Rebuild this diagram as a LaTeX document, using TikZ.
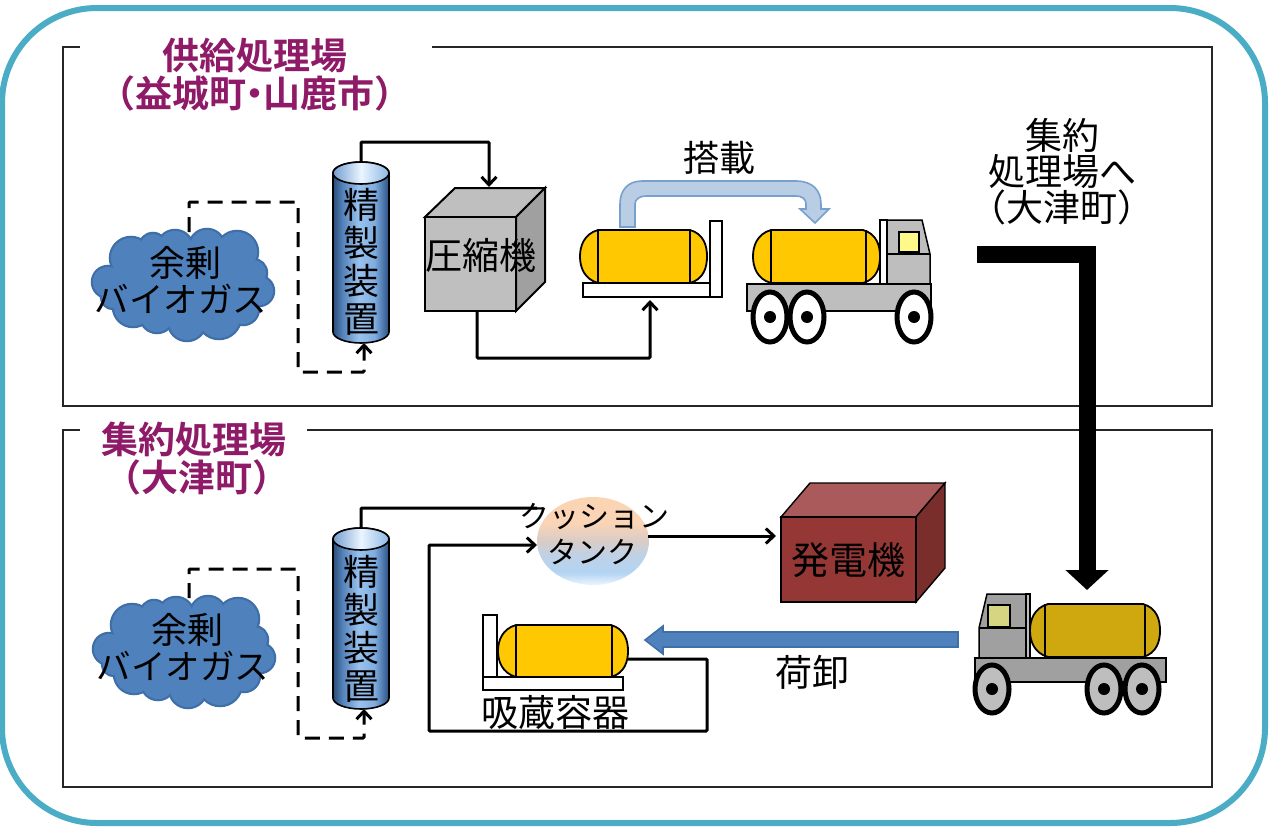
\documentclass[tikz,border=0pt]{standalone}
\usepackage{fontspec}
\setmainfont{Noto Sans CJK JP}
\newfontfamily\jpbold{Noto Sans CJK JP Bold}
\usetikzlibrary{arrows.meta}
\definecolor{frameC}{HTML}{4BACC6}
\definecolor{titleC}{HTML}{8E1A68}
\definecolor{cloudC}{HTML}{4F81BD}
\definecolor{cloudE}{HTML}{3F6FA8}
\definecolor{tankC}{HTML}{FFC800}
\definecolor{tankD}{HTML}{CFA70F}
\definecolor{grayC}{HTML}{BEBEBE}
\definecolor{grayD}{HTML}{A0A0A0}
\definecolor{cubeG}{HTML}{BFBFBF}
\pgfdeclareverticalshading{cushshade}{100bp}{
  rgb(0bp)=(.93,.96,1); rgb(25bp)=(.93,.96,1); rgb(32bp)=(.70,.83,.95);
  rgb(42bp)=(.75,.82,.90); rgb(50bp)=(.85,.80,.78); rgb(60bp)=(.98,.83,.71);
  rgb(75bp)=(.98,.83,.70); rgb(100bp)=(.98,.83,.70)}
\pgfdeclarehorizontalshading{cylshade}{100bp}{
  rgb(0bp)=(.16,.30,.46); rgb(25bp)=(.16,.30,.46); rgb(33bp)=(.32,.50,.72);
  rgb(48bp)=(.60,.76,.93); rgb(62bp)=(.50,.68,.88); rgb(72bp)=(.24,.40,.60);
  rgb(75bp)=(.16,.30,.46); rgb(100bp)=(.16,.30,.46)}
\pgfdeclarehorizontalshading{cyltop}{100bp}{
  rgb(0bp)=(.45,.62,.82); rgb(25bp)=(.45,.62,.82); rgb(50bp)=(.92,.96,1);
  rgb(75bp)=(.55,.72,.90); rgb(100bp)=(.55,.72,.90)}
\tikzset{
  x=1pt,y=-1pt,
  panel/.style={draw=black!85,line width=1.1pt},
  flow/.style={draw=black,line width=3pt,-{Straight Barb[length=8pt,width=15pt,line width=3pt]},rounded corners=1pt},
  dflow/.style={flow,dash pattern=on 15pt off 9pt},
  title/.style={text=titleC,align=center,font=\jpbold\fontsize{37}{38}\selectfont,inner sep=0pt},
  lbl/.style={text=black,align=center,font=\fontsize{36}{36}\selectfont,inner sep=0pt},
  wheel/.style={draw=black,line width=5pt},
}
\newcommand{\tankshape}[7]{
  \fill[#7,draw=black,line width=1.8pt] (#2-17,#3) -- (#1+18,#3)
     .. controls (#1+4,#3+4) and (#1,#3+16) .. (#1,{(#3+#4)/2})
     .. controls (#1,#4-16) and (#1+4,#4-4) .. (#1+18,#4)
     -- (#2-17,#4)
     .. controls (#2-3,#4-4) and (#2,#4-16) .. (#2,{(#3+#4)/2})
     .. controls (#2,#3+16) and (#2-3,#3+4) .. (#2-17,#3) -- cycle;
  \draw[black,line width=1.8pt] (#5,#3) -- (#5,#4) (#6,#3) -- (#6,#4);
}
\newcommand{\cloudlobes}{-75/-3/16,-52/-27/21,-30/-38/14,-8/-37/18,24/-38/18,54/-33/21,70/-12/14,76/6/15,60/24/16,36/32/22,4/37/19,-26/31/17,-50/22/20,-70/12/12}
\newcommand{\cloudshape}[2]{
  \begin{scope}[shift={(#1,#2)}]
    \foreach \a/\b/\r in \cloudlobes {
      \filldraw[cloudC,draw=cloudE,line width=2.5pt] (\a,\b) circle[radius=\r];
    }
    \fill[cloudC] (0,0) ellipse[x radius=76,y radius=40];
    \foreach \a/\b/\r in \cloudlobes {
      \fill[cloudC] (\a,\b) circle[radius=\r-1];
    }
  \end{scope}
}
\newcommand{\cylshape}[3]{% cx top bottom
  \path[shading=cylshade,draw=black,line width=1.6pt]
    (#1-28,#2+11) -- (#1-28,#3-11) arc[start angle=180,end angle=0,x radius=28,y radius=11] -- (#1+28,#2+11) arc[start angle=0,end angle=-180,x radius=28,y radius=11] -- cycle;
  \path[shading=cyltop,draw=black,line width=1.6pt] (#1,#2+11) ellipse[x radius=28,y radius=11];
}
\newcommand{\kata}{\fontsize{34.5}{36}\selectfont バイオガス}
\begin{document}
\begin{tikzpicture}
\useasboundingbox (0,0) rectangle (1269,827);
\fill[white] (0,0) rectangle (1269,827);
\draw[frameC,line width=6pt,rounded corners=95pt] (2,8) rectangle (1265,823);

% panels
\draw[panel] (80,47) -- (63,47) -- (63,406) -- (1212,406) -- (1212,47) -- (432,47);
\draw[panel] (80,430) -- (63,430) -- (63,787) -- (1212,787) -- (1212,430) -- (307,430);
\node[title] (t1) at (255,75) {供給処理場\\（益城町\kern-10pt・\kern-10pt山鹿市）};
\node[title] (t2) at (194,459) {集約処理場\\\kern6pt（大津町）};

% === upper section ===
\cloudshape{183}{285}
\cylshape{361}{162}{343}
\node[lbl] (gas1) at (181,280) {\hspace*{8pt}余剰\\{\kata}};
\node[lbl,font=\fontsize{36}{38}\selectfont] (pur1) at (361,262) {精\\製\\装\\置};
\coordinate (pur1t) at (361,162);
\coordinate (pur1b) at (364,343);
\coordinate (gas1t) at (189,232);

% compressor cube
\fill[cubeG,draw=black,line width=2pt] (425,217) -- (455,188) -- (545,188) -- (516,217) -- cycle;
\fill[grayD,draw=black,line width=2pt] (516,217) -- (545,188) -- (545,282) -- (516,311) -- cycle;
\fill[cubeG,draw=black,line width=2pt] (425,217) rectangle (516,311);
\node[lbl,font=\fontsize{37}{38}\selectfont] (comp) at (481,255) {圧縮機};
\coordinate (compT) at (489,187);
\coordinate (compB) at (477,311);

% storage on stand
\draw[black,fill=white,line width=1.5pt] (583,283) rectangle (722,297);
\draw[black,fill=white,line width=1.5pt] (710,221) rectangle (722,297);
\tankshape{580}{707}{230}{283}{598}{690}{tankC}
\coordinate (standB) at (650,300);

% truck 1
\fill[grayC,draw=black,line width=1.5pt] (887,220) -- (922,220) -- (930,254) -- (930,284) -- (887,284) -- cycle;
\draw[black,line width=1.5pt] (887,254) -- (930,254);
\draw[black,fill=white,line width=1.5pt] (880,220) rectangle (887,284);
\fill[yellow!45!white,draw=black,line width=1.5pt] (899,232) rectangle (919,252);
\fill[grayC,draw=black,line width=1.5pt] (747,284) rectangle (931,311);
\tankshape{753}{880}{230}{283}{771}{866}{tankC}
\foreach \c in {770,807,914}{
  \filldraw[fill=white,wheel] (\c,317) ellipse[x radius=17,y radius=25];
  \fill[black] (\c,317) circle[radius=6];
}

% loading arrow
\path[fill={rgb,255:red,185;green,205;blue,229},draw={rgb,255:red,120;green,160;blue,205},line width=1.6pt]
  (620,227) -- (620,204) .. controls (620,190) and (628,181) .. (642,181) -- (796,181)
  .. controls (812,181) and (821,190) .. (821,204) -- (821,209) -- (829,209) -- (815,223) -- (800,209) -- (806,209) -- (806,204)
  .. controls (806,199) and (802,196) .. (796,196) -- (646,196)
  .. controls (640,196) and (635,199) .. (635,204) -- (635,227) -- cycle;
\node[lbl] (load) at (719,158) {搭載};

\node[lbl,font=\fontsize{37}{36}\selectfont] (dest) at (1062,172) {集約\\処理場へ\\（大津町）};

% === lower section ===
\cloudshape{184}{652}
\cylshape{361}{528}{709}
\node[lbl] (gas2) at (183,647) {\hspace*{8pt}余剰\\{\kata}};
\node[lbl,font=\fontsize{36}{38}\selectfont] (pur2) at (361,629) {精\\製\\装\\置};
\coordinate (pur2t) at (361,528);
\coordinate (pur2b) at (364,709);
\coordinate (gas2t) at (189,598);

% cushion tank
\path[shading=cushshade] (593,541) ellipse[x radius=56,y radius=44];
\node[lbl,font=\fontsize{30}{36}\selectfont] (cush) at (594,534) {クッション\\\kern-3pt タンク};
\coordinate (cushL1) at (537,508);
\coordinate (cushL2) at (537,545);
\coordinate (cushR) at (648,536);

% generator
\fill[fill={rgb,255:red,170;green,90;blue,90},draw=black,line width=1.4pt] (781,517) -- (810,483) -- (945,483) -- (916,517) -- cycle;
\fill[fill={rgb,255:red,122;green,46;blue,44},draw=black,line width=1.4pt] (916,517) -- (945,483) -- (945,568) -- (916,602) -- cycle;
\fill[fill={rgb,255:red,149;green,55;blue,53},draw=black,line width=1.4pt] (781,517) rectangle (916,602);
\node[lbl,font=\fontsize{38}{38}\selectfont] (gen) at (848,560) {発電機};
\coordinate (genL) at (776,536);

% storage lower
\draw[black,fill=white,line width=1.5pt] (483,677) rectangle (623,690);
\draw[black,fill=white,line width=1.5pt] (483,615) rectangle (497,677);
\tankshape{498}{628}{625}{677}{516}{612}{tankC}
\node[lbl,font=\fontsize{37}{38}\selectfont] (stor) at (555,712) {吸蔵容器};
\coordinate (storR) at (628,659);

% truck 2
\fill[grayD,draw=black,line width=1.5pt] (1026,594) -- (987,594) -- (979,628) -- (979,660) -- (1026,660) -- cycle;
\draw[black,line width=1.5pt] (979,628) -- (1026,628);
\draw[black,fill=grayC,line width=1.5pt] (1026,594) rectangle (1030,660);
\fill[fill={rgb,255:red,214;green,214;blue,130},draw=black,line width=1.5pt] (988,605) rectangle (1010,627);
\fill[grayD,draw=black,line width=1.5pt] (975,658) rectangle (1166,682);
\tankshape{1030}{1160}{604}{657}{1045}{1145}{tankD}
\foreach \c in {992,1104,1142}{
  \filldraw[fill=grayC,wheel] (\c,689) ellipse[x radius=17,y radius=24];
  \fill[black] (\c,689) circle[radius=6];
}

% unload arrow
\path[fill=cloudC,draw=cloudE,line width=1.6pt]
  (958,632) -- (663,632) -- (663,626) -- (645,640) -- (663,654) -- (663,647) -- (958,647) -- cycle;
\node[lbl,font=\fontsize{37}{38}\selectfont] (unl) at (812,672) {荷卸};

% big delivery arrow
\coordinate (bigS) at (977,254);
\coordinate (bigE) at (1087,590);
\draw[black,line width=17pt,-{Triangle[length=20pt,width=42pt]}] (bigS) -| (bigE);

% connectors
\draw[flow] (pur1t) -- ++(0,-20) -| (compT);
\draw[flow] (compB) |- (590,358) -| (standB);
\draw[dflow] (gas1t) -- (189,202) -- (298,202) -- (298,372) -- (364,372) -- (pur1b);
\draw[flow,-] (pur2t) -- (361,508) -- (cushL1);
\draw[flow] (storR) -- (707,659) -- (707,731) -- (429,731) -- (429,545) -- (cushL2);
\draw[flow] (cushR) -- (genL);
\draw[dflow] (gas2t) -- (189,569) -- (298,569) -- (298,738) -- (364,738) -- (pur2b);
\end{tikzpicture}
\end{document}
